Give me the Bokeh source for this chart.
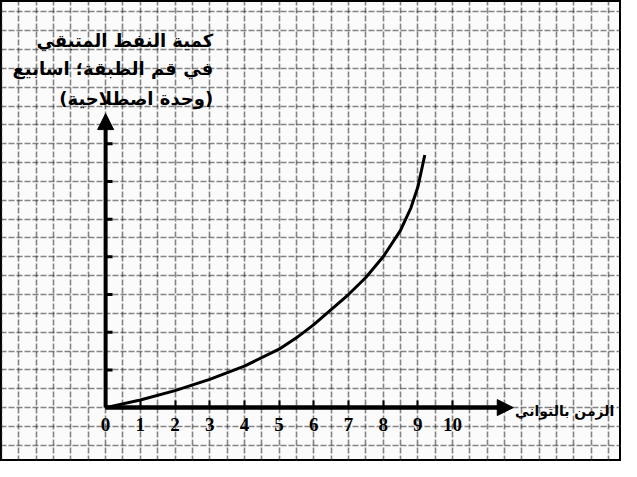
import numpy as np
from bokeh.plotting import figure
from bokeh.models import Arrow, NormalHead, FixedTicker, Range1d
from bokeh.core.properties import value
from bokeh.embed import file_html
from bokeh.resources import INLINE

# data
time_vals = [0, 1, 2, 3, 4, 5, 5.5, 6, 6.5, 7, 7.5, 8, 8.5, 8.8, 9.0, 9.2]
amount_vals = [0, 0.2, 0.45, 0.75, 1.1, 1.55, 1.85, 2.2, 2.6, 3.0, 3.45, 4.0, 4.7, 5.3, 5.85, 6.7]
x_ticks = [0, 1, 2, 3, 4, 5, 6, 7, 8, 9, 10]
y_ticks = [1, 2, 3, 4, 5, 6, 7]
y_label_lines = ["كمية النفط المتبقي", "في قم الطبقة؛ اسابيع", "(وحدة اصطلاحية)"]
x_label = "الزمن بالثواني"

p = figure(width=621, height=461, output_backend="svg", toolbar_location=None,
           x_range=Range1d(-3.03, 14.87), y_range=Range1d(-1.43, 10.80),
           min_border=0, background_fill_color="#fbfbfb")
p.outline_line_color = "black"
p.outline_line_width = 3

# graph-paper grid
for g, rng in ((p.xgrid, np.arange(-3.0, 15.0, 0.5)), (p.ygrid, np.arange(-1.5, 10.9, 0.5))):
    g.ticker = FixedTicker(ticks=list(rng))
    g.grid_line_color = "#222222"
    g.grid_line_alpha = 0.55
    g.grid_line_width = 1.6
    g.grid_line_dash = "6 2"

# x axis at the origin (line drawn by the arrow)
p.xaxis.fixed_location = 0
p.xaxis.bounds = (0, 11.4)
p.xaxis.ticker = FixedTicker(ticks=x_ticks)
p.xaxis.axis_line_width = 4
p.xaxis.major_tick_in = 7
p.xaxis.major_tick_out = 0
p.xaxis.major_tick_line_width = 2
p.xaxis.minor_tick_line_color = None
p.xaxis.major_label_standoff = 10
p.xaxis.major_label_text_font = "Liberation Serif"
p.xaxis.major_label_text_font_style = "bold"
p.xaxis.major_label_text_font_size = "19px"
p.xaxis.major_label_text_color = "black"
p.yaxis.visible = False

# tick marks on y axis pointing right
p.segment(x0=[0] * len(y_ticks), y0=y_ticks, x1=[0.2] * len(y_ticks), y1=y_ticks,
          line_color="black", line_width=3)

p.add_layout(Arrow(end=NormalHead(size=16, fill_color="black", line_color="black"),
                   x_start=0, y_start=0, x_end=11.75, y_end=0, line_width=4))
p.add_layout(Arrow(end=NormalHead(size=16, fill_color="black", line_color="black"),
                   x_start=0, y_start=0, x_end=0, y_end=7.8, line_width=4))

# curve
p.line(time_vals, amount_vals, line_color="black", line_width=3)

# labels
p.text(x=[3.1] * 3, y=[9.73, 9.0, 8.2], text=y_label_lines, text_align="right",
       text_baseline="middle", text_font=value("DejaVu Sans"), text_font_style="bold",
       text_font_size="18px", text_color="black")
p.text(x=[11.8], y=[-0.1], text=[x_label], text_align="left", text_baseline="middle",
       text_font=value("DejaVu Sans"), text_font_style="bold", text_font_size="14px",
       text_color="black")

open("out.html", "w").write(file_html(p, INLINE))
